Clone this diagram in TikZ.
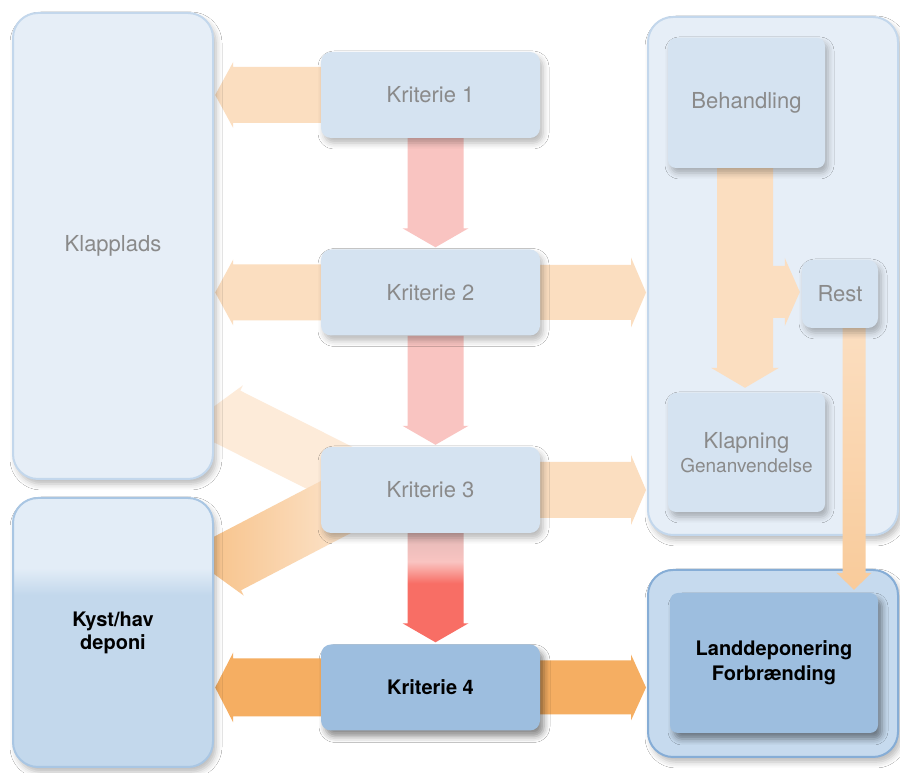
\documentclass[tikz,border=0pt]{standalone}
\usepackage{fontspec}
\setmainfont{TeX Gyre Heros}
\usetikzlibrary{calc,shadows.blur}

\definecolor{boxL}{HTML}{D5E3F1}
\definecolor{contL}{HTML}{E6EEF7}
\definecolor{contLB}{HTML}{C3D7EC}
\definecolor{boxD}{HTML}{9DBEDF}
\definecolor{contD}{HTML}{C6DAEE}
\definecolor{contDB}{HTML}{86ADD6}
\definecolor{kyB}{HTML}{A9C6E3}
\definecolor{orL}{HTML}{FBDEC0}
\definecolor{orD}{HTML}{F5AE62}
\definecolor{pinkA}{HTML}{F9C4C1}
\definecolor{pinkG}{HTML}{E3B9B7}
\definecolor{redA}{HTML}{F86E65}
\definecolor{txtG}{HTML}{8A8A8A}
\definecolor{kyTop}{HTML}{E3EDF7}
\definecolor{kyBot}{HTML}{C3D8EC}

\pgfdeclareverticalshading{redarrow}{100bp}{color(0bp)=(redA); color(25bp)=(redA); color(52bp)=(redA); color(62bp)=(pinkA); color(75bp)=(pinkG); color(100bp)=(pinkG)}
\pgfdeclareverticalshading{kyshade}{100bp}{color(0bp)=(kyBot); color(25bp)=(kyBot); color(57bp)=(kyBot); color(62bp)=(kyTop); color(75bp)=(kyTop); color(100bp)=(kyTop)}

% block arrow: [style]{start}{tip}{body half width}{head half width}{head length}
\newcommand\barr[6][]{%
  \path ($(#3)!#6!(#2)$) coordinate (bH);
  \path[#1] ($(#2)!#4!90:(#3)$) -- ($(bH)!#4!90:(#3)$) -- ($(bH)!#5!90:(#3)$) -- (#3)
    -- ($(bH)!#5!-90:(#3)$) -- ($(bH)!#4!-90:(#3)$) -- ($(#2)!#4!-90:(#3)$) -- cycle;}

\tikzset{
  lsh/.style={blur shadow={shadow xshift=3pt, shadow yshift=-5pt, shadow blur radius=6pt, shadow opacity=28}},
  dsh/.style={blur shadow={shadow xshift=4pt, shadow yshift=-6pt, shadow blur radius=6pt, shadow opacity=45}},
  lbox/.style={lsh, fill=boxL, rounded corners=10pt, inner sep=0pt, align=center, text=txtG,
    font=\fontsize{22}{24}\selectfont},
  dbox/.style={dsh, fill=boxD, rounded corners=10pt, inner sep=0pt, align=center, text=black,
    font=\bfseries\fontsize{20}{25}\selectfont},
  cont/.style={lsh, fill=contL, draw=contLB, line width=2pt, rounded corners=25pt, inner sep=0pt, align=center},
}

\begin{document}
\begin{tikzpicture}[x=1pt,y=1pt]
\useasboundingbox (0,0) rectangle (900,773);
\fill[white] (0,0) rectangle (900,773);

% containers
\node[cont, minimum width=250pt, minimum height=518pt] (r1) at (773,497) {};
\node[cont, fill=contD, draw=contDB, minimum width=250pt, minimum height=187pt] (r2) at (773,109.5) {};

% anchor frames of the boxes, used by the arrows
\path (113,527) coordinate (klc) (113,140.5) coordinate (kyc);
\node[inner sep=0pt, minimum width=200pt, minimum height=466pt] (kl) at (klc) {};
\node[inner sep=0pt, minimum width=200pt, minimum height=269pt] (ky) at (kyc) {};
\node[inner sep=0pt, minimum width=219pt, minimum height=86pt] (k1) at (430.5,678) {};
\node[inner sep=0pt, minimum width=219pt, minimum height=86pt] (k2) at (430.5,480.5) {};
\node[inner sep=0pt, minimum width=219pt, minimum height=86pt] (k3) at (430.5,283) {};
\node[inner sep=0pt, minimum width=219pt, minimum height=86pt] (k4) at (430.5,85.5) {};
\node[inner sep=0pt, minimum width=157pt, minimum height=130pt] (beh) at (746.5,670) {};
\node[inner sep=0pt, minimum width=76pt, minimum height=68pt] (rest) at (840,479) {};
\node[inner sep=0pt, minimum width=157pt, minimum height=119pt] (klap) at (746.5,320.5) {};
\node[inner sep=0pt, minimum width=208pt, minimum height=140pt] (land) at (774,110) {};

% arrows
\path (k1.west) coordinate (a1s) (kl.east |- k1.west) ++(2,0) coordinate (a1t);
\barr[fill=orL]{a1s}{a1t}{28pt}{33pt}{18pt}
\path (k2.west) coordinate (a2s) (kl.east |- k2.west) ++(2,0) coordinate (a2t);
\barr[fill=orL]{a2s}{a2t}{28pt}{33pt}{18pt}

\path ($(k1.south)+(5,0)$) coordinate (a3s) ($(k2.north)+(5,2)$) coordinate (a3t);
\barr[fill=pinkA]{a3s}{a3t}{28pt}{33pt}{19pt}
\path ($(k2.south)+(5,0)$) coordinate (a4s) ($(k3.north)+(5,2)$) coordinate (a4t);
\barr[fill=pinkA]{a4s}{a4t}{28pt}{33pt}{19pt}
\path ($(k3.south)+(5,0)$) coordinate (a5s) ($(k4.north)+(5,2)$) coordinate (a5t);
\barr[shade, shading=redarrow]{a5s}{a5t}{28pt}{33pt}{19pt}

\path (k2.east) coordinate (a6s) (r1.west |- k2.east) ++(-1,0) coordinate (a6t);
\barr[fill=orL]{a6s}{a6t}{27.5pt}{35pt}{15pt}
\path (k3.east) coordinate (a7s) (r1.west |- k3.east) ++(-1,0) coordinate (a7t);
\barr[fill=orL]{a7s}{a7t}{28pt}{35pt}{15pt}
\path (k4.east) coordinate (a8s) (r2.west |- k4.east) ++(-1,0) coordinate (a8t);
\barr[fill=orD]{a8s}{a8t}{27pt}{33pt}{15pt}
\path (k4.west) coordinate (a9s) (ky.east |- k4.west) ++(2,0) coordinate (a9t);
\barr[fill=orD]{a9s}{a9t}{29pt}{35pt}{18pt}

\path ($(k3.west)+(19,17)$) coordinate (d1s) (kl.east |- k3.west) ++(-2,81.5) coordinate (d1t);
\barr[fill=orL!60!white]{d1s}{d1t}{29pt}{35pt}{18pt}
\path ($(k3.west)+(19,-15)$) coordinate (d2s) (kl.east |- k3.west) ++(-2,-82) coordinate (d2t);
\barr[left color=orD!55!orL, right color=orL!80!white]{d2s}{d2t}{30pt}{36pt}{18pt}

\path ($(beh.south)+(-1.5,0)$) coordinate (a10s) ($(klap.north)+(-1.5,5)$) coordinate (a10t);
\barr[fill=orL]{a10s}{a10t}{28pt}{34pt}{20pt}
\path ($(rest.west)+(-29,2)$) coordinate (a11s) ($(rest.west)+(-2,2)$) coordinate (a11t);
\barr[fill=orL]{a11s}{a11t}{26pt}{34pt}{15pt}
\path ($(rest.south)+(14,0)$) coordinate (a12s);
\path (a12s |- land.north) ++(0,3) coordinate (a12t);
\barr[top color=orL, bottom color=orL!60!orD]{a12s}{a12t}{11.5pt}{17.5pt}{17pt}

% boxes
\node[cont, minimum width=200pt, minimum height=466pt, text=txtG, font=\fontsize{22}{24}\selectfont] (klb) at (klc) {Klapplads};
\node[lsh, shade, shading=kyshade, draw=kyB, line width=2pt, rounded corners=25pt, inner sep=0pt,
  minimum width=200pt, minimum height=269pt, align=center, font=\bfseries\fontsize{20}{23}\selectfont] (kyb) at (kyc) {Kyst/hav\\deponi};
\node[lbox, minimum width=219pt, minimum height=86pt] (k1b) at (k1) {Kriterie 1};
\node[lbox, minimum width=219pt, minimum height=86pt] (k2b) at (k2) {Kriterie 2};
\node[lbox, minimum width=219pt, minimum height=86pt] (k3b) at (k3) {Kriterie 3};
\node[dbox, minimum width=219pt, minimum height=86pt] (k4b) at (k4) {Kriterie 4};
\node[lbox, rounded corners=8pt, minimum width=157pt, minimum height=130pt] (behb) at (beh) {Behandling};
\node[lbox, minimum width=76pt, minimum height=68pt] (restb) at (rest) {Rest};
\node[lbox, rounded corners=8pt, minimum width=157pt, minimum height=119pt] (klapb) at (klap) {Klapning\\{\fontsize{19}{24}\selectfont Genanvendelse}};
\node[dbox, rounded corners=8pt, minimum width=208pt, minimum height=140pt] (landb) at (land) {Landdeponering\\Forbrænding};
\end{tikzpicture}
\end{document}
